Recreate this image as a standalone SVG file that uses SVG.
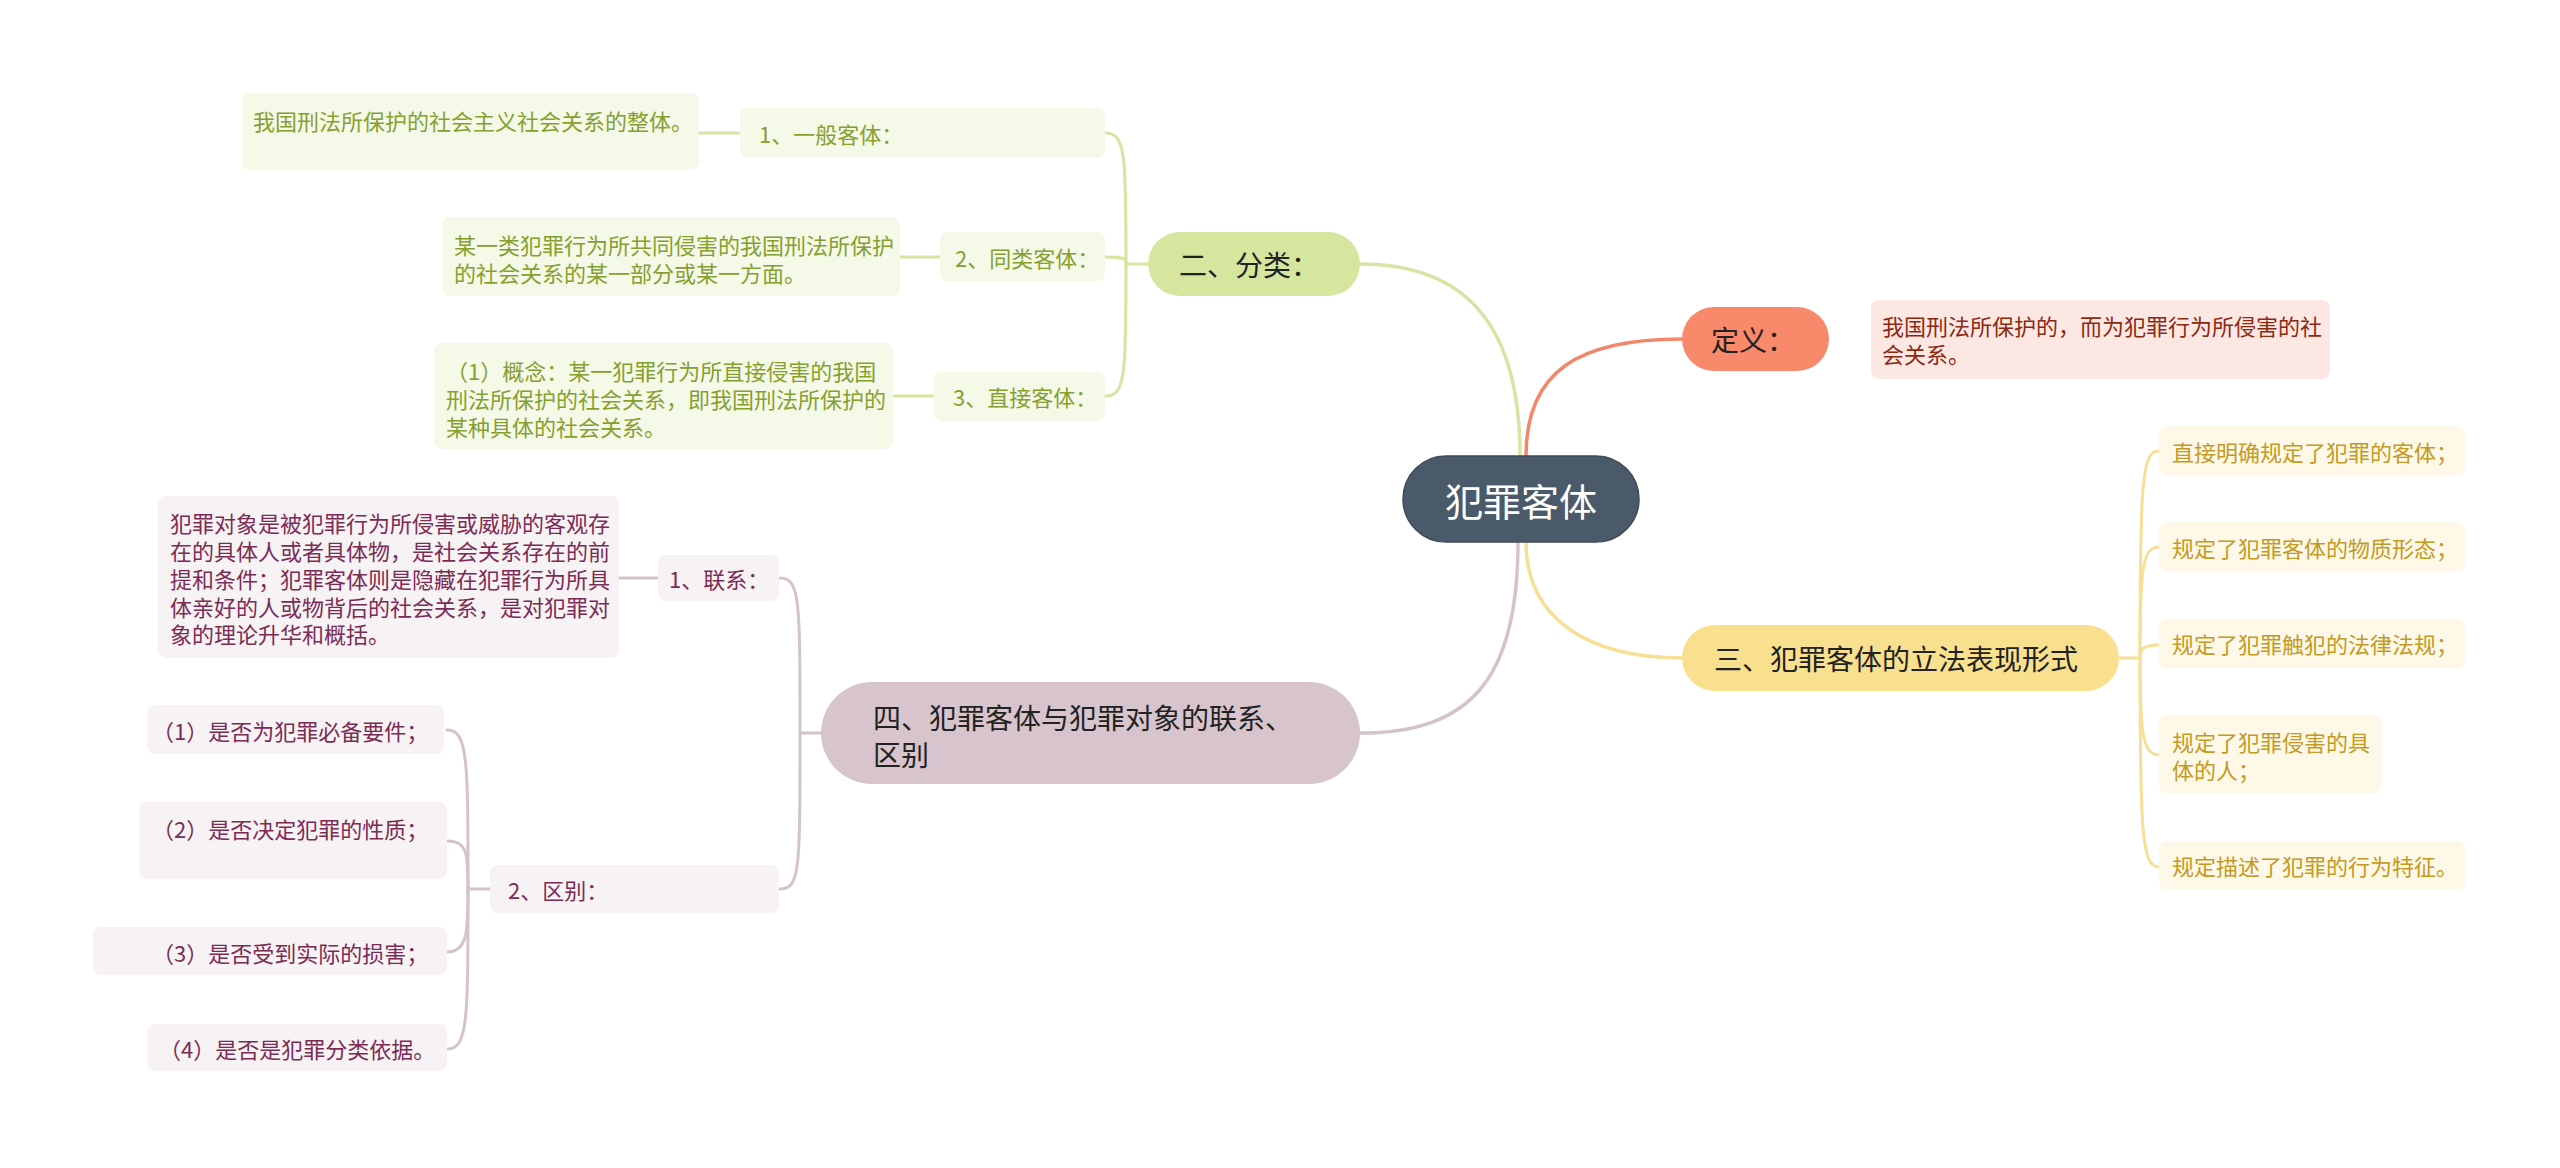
<svg xmlns="http://www.w3.org/2000/svg" width="2560" height="1168" viewBox="0 0 2560 1168">
<style>
text{font-family:"Noto Sans CJK SC","Noto Sans",sans-serif;dominant-baseline:central}
.c{fill:none;stroke-width:3;stroke-linecap:round}
.cg{stroke:#d5e5a2}.cp{stroke:#d5c3cb}.cy{stroke:#f6df96}.cs{stroke:#f3876a}
.m{stroke-width:3.5}
.gb{fill:#f5f9e8}.gt{fill:#86a030;font-size:22px}
.pb{fill:#f7f2f4}.pt{fill:#7b2c55;font-size:22px}
.yb{fill:#fdf8e8}.yt{fill:#c49a22;font-size:22px}
.bt{fill:#222;font-size:28px}
</style>
<rect width="2560" height="1168" fill="#ffffff"/>
<g id="connectors">
<path class="c cg m" d="M1360,264 C1470,264 1520,330 1520,456"/>
<path class="c cs m" d="M1526,456 C1526,370 1580,339 1682,339"/>
<path class="c cy m" d="M1526,542 C1526,620 1590,658 1682,658"/>
<path class="c cp m" d="M1518,542 C1518,680 1470,733 1360,733"/>
<path class="c cg" d="M1148,264 L1126,264"/>
<path class="c cg" d="M1126,264 C1126,160 1126,133 1106,133"/>
<path class="c cg" d="M1126,262 C1126,258 1120,257 1106,257"/>
<path class="c cg" d="M1126,264 C1126,370 1126,396 1106,396"/>
<path class="c cg" d="M740,133 L699,133"/>
<path class="c cg" d="M940,257 L900,257"/>
<path class="c cg" d="M934,396 L893,396"/>
<path class="c cy" d="M2119,658 L2140,658"/>
<path class="c cy" d="M2140,658 C2140,480 2142,451 2159,451"/>
<path class="c cy" d="M2140,658 C2140,570 2142,547 2159,547"/>
<path class="c cy" d="M2140,658 C2140,650 2142,645 2159,645"/>
<path class="c cy" d="M2140,658 C2140,730 2142,755 2159,755"/>
<path class="c cy" d="M2140,658 C2140,835 2142,867 2159,867"/>
<path class="c cp" d="M821,733 L800,733"/>
<path class="c cp" d="M800,733 C800,600 800,578 780,578"/>
<path class="c cp" d="M800,733 C800,870 800,889 780,889"/>
<path class="c cp" d="M658,578 L619,578"/>
<path class="c cp" d="M490,889 L468,889"/>
<path class="c cp" d="M468,889 C468,760 468,730 447,730"/>
<path class="c cp" d="M468,889 C468,855 468,841 447,841"/>
<path class="c cp" d="M468,889 C468,930 468,952 447,952"/>
<path class="c cp" d="M468,889 C468,1020 468,1049 447,1049"/>
</g>
<g id="root">
<rect x="1403" y="456" width="236" height="86" rx="43" fill="#4a5a6a" stroke="#3e4c5a" stroke-width="1.5"/>
<text x="1521" y="499" font-size="38" fill="#ffffff" text-anchor="middle">犯罪客体</text>
</g>
<g id="b-fenlei">
<rect x="1148" y="232" width="212" height="64" rx="32" fill="#d7e69f"/>
<text class="bt" x="1179" y="264">二、分类：</text>
</g>
<g id="g1">
<rect class="gb" x="740" y="108" width="365" height="50" rx="8"/>
<text class="gt" x="759" y="133">1、一般客体：</text>
</g>
<g id="g1t">
<rect class="gb" x="242" y="93" width="457" height="77" rx="8"/>
<text class="gt" x="253" y="120">我国刑法所保护的社会主义社会关系的整体。</text>
</g>
<g id="g2">
<rect class="gb" x="940" y="232" width="165" height="49" rx="8"/>
<text class="gt" x="955" y="257">2、同类客体：</text>
</g>
<g id="g2t">
<rect class="gb" x="442" y="217" width="458" height="79" rx="8"/>
<text class="gt" x="454" y="244">某一类犯罪行为所共同侵害的我国刑法所保护</text>
<text class="gt" x="454" y="272">的社会关系的某一部分或某一方面。</text>
</g>
<g id="g3">
<rect class="gb" x="934" y="372" width="171" height="49" rx="8"/>
<text class="gt" x="953" y="396">3、直接客体：</text>
</g>
<g id="g3t">
<rect class="gb" x="434" y="343" width="459" height="106" rx="8"/>
<text class="gt" x="446" y="370">（1）概念：某一犯罪行为所直接侵害的我国</text>
<text class="gt" x="446" y="398">刑法所保护的社会关系，即我国刑法所保护的</text>
<text class="gt" x="446" y="426">某种具体的社会关系。</text>
</g>
<g id="b-dingyi">
<rect x="1682" y="307" width="147" height="64" rx="32" fill="#f9896b"/>
<text class="bt" x="1711" y="339">定义：</text>
</g>
<g id="d1">
<rect x="1871" y="300" width="459" height="79" rx="8" fill="#fde7e2"/>
<text x="1882" y="325" font-size="22" fill="#8b2a14">我国刑法所保护的，而为犯罪行为所侵害的社</text>
<text x="1882" y="353" font-size="22" fill="#8b2a14">会关系。</text>
</g>
<g id="b-san">
<rect x="1682" y="625" width="437" height="66" rx="33" fill="#f9e08e"/>
<text class="bt" x="1714" y="658">三、犯罪客体的立法表现形式</text>
</g>
<g id="y1">
<rect class="yb" x="2159" y="426" width="306" height="49" rx="8"/>
<text class="yt" x="2172" y="451">直接明确规定了犯罪的客体；</text>
</g>
<g id="y2">
<rect class="yb" x="2159" y="522" width="306" height="49" rx="8"/>
<text class="yt" x="2172" y="547">规定了犯罪客体的物质形态；</text>
</g>
<g id="y3">
<rect class="yb" x="2159" y="619" width="306" height="49" rx="8"/>
<text class="yt" x="2172" y="643">规定了犯罪触犯的法律法规；</text>
</g>
<g id="y4">
<rect class="yb" x="2159" y="715" width="223" height="78" rx="8"/>
<text class="yt" x="2172" y="741">规定了犯罪侵害的具</text>
<text class="yt" x="2172" y="769">体的人；</text>
</g>
<g id="y5">
<rect class="yb" x="2159" y="841" width="306" height="49" rx="8"/>
<text class="yt" x="2172" y="865">规定描述了犯罪的行为特征。</text>
</g>
<g id="b-si">
<rect x="821" y="682" width="539" height="102" rx="51" fill="#d7c4cd"/>
<text class="bt" x="873" y="717">四、犯罪客体与犯罪对象的联系、</text>
<text class="bt" x="873" y="754">区别</text>
</g>
<g id="p1">
<rect class="pb" x="658" y="555" width="121" height="46" rx="8"/>
<text class="pt" x="669" y="578">1、联系：</text>
</g>
<g id="p1t">
<rect class="pb" x="158" y="496" width="461" height="162" rx="8"/>
<text class="pt" x="170" y="522">犯罪对象是被犯罪行为所侵害或威胁的客观存</text>
<text class="pt" x="170" y="550">在的具体人或者具体物，是社会关系存在的前</text>
<text class="pt" x="170" y="578">提和条件；犯罪客体则是隐藏在犯罪行为所具</text>
<text class="pt" x="170" y="606">体亲好的人或物背后的社会关系，是对犯罪对</text>
<text class="pt" x="170" y="633">象的理论升华和概括。</text>
</g>
<g id="p2">
<rect class="pb" x="490" y="865" width="289" height="48" rx="8"/>
<text class="pt" x="508" y="889">2、区别：</text>
</g>
<g id="p2a">
<rect class="pb" x="147" y="705" width="297" height="49" rx="8"/>
<text class="pt" x="152" y="730">（1）是否为犯罪必备要件；</text>
</g>
<g id="p2b">
<rect class="pb" x="139" y="802" width="308" height="77" rx="8"/>
<text class="pt" x="152" y="828">（2）是否决定犯罪的性质；</text>
</g>
<g id="p2c">
<rect class="pb" x="93" y="927" width="354" height="48" rx="8"/>
<text class="pt" x="152" y="952">（3）是否受到实际的损害；</text>
</g>
<g id="p2d">
<rect class="pb" x="147" y="1024" width="300" height="47" rx="8"/>
<text class="pt" x="159" y="1048">（4）是否是犯罪分类依据。</text>
</g>
</svg>
